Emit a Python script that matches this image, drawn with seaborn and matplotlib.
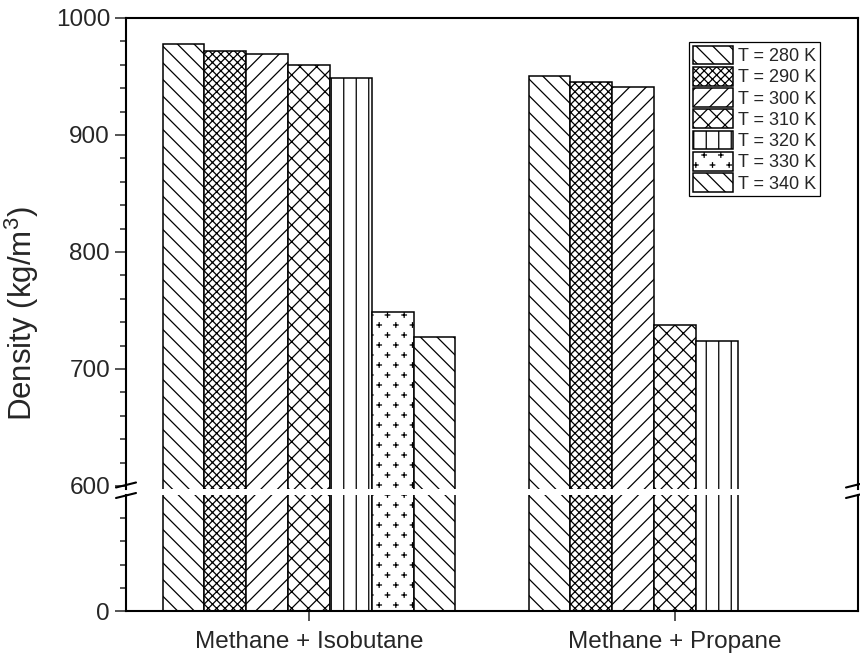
import numpy as np
import pandas as pd
import matplotlib
matplotlib.use("Agg")
import matplotlib.pyplot as plt
import matplotlib.hatch as mhatch
from matplotlib.path import Path
from matplotlib.lines import Line2D
import seaborn as sns

# ---- data -------------------------------------------------------------
mixtures = ["Methane + Isobutane", "Methane + Propane"]
temperatures = ["T = 280 K", "T = 290 K", "T = 300 K", "T = 310 K",
                "T = 320 K", "T = 330 K", "T = 340 K"]
isobutane_density = [978, 972, 969, 960, 949, 749, 727]
propane_density = [950, 945, 941, 738, 724]          # no 330 K / 340 K points
hatches = ["\\\\", "xxxx", "//", "xx", "|", ".", "\\\\"]

upper_ticks = [600, 700, 800, 900, 1000]
lower_ticks = [0]


# ---- custom hatch patterns: denser vertical lines and small plus marks --
class DenseVertical(mhatch.VerticalHatch):
    def __init__(self, hatch, density):
        self.num_lines = int((hatch.count('|') + hatch.count('+')) * density * 1.4)
        self.num_vertices = self.num_lines * 2


class PlusMarks(mhatch.HatchPatternBase):
    """Staggered grid of small '+' marks, kept clear of the tile edges."""
    size = 4.5  # arm-to-arm length in hatch-tile hundredths

    def __init__(self, hatch, density):
        n = hatch.count('.')
        self.rows = 10 * n
        self.cols = 6 * n
        self.centers = []
        for r in range(self.rows):
            shift = 0.25 if r % 2 == 0 else 0.75
            y = (r + 0.5) / self.rows
            self.centers.extend(((c + shift) / self.cols, y)
                                for c in range(self.cols))
        self.num_vertices = len(self.centers) * 4

    def set_vertices_and_codes(self, vertices, codes):
        half = 0.5 * self.size / 100.0
        shape = np.array([[-half, 0.0], [half, 0.0], [0.0, -half], [0.0, half]])
        vertices[:] = np.concatenate([shape + c for c in self.centers])
        codes[:] = np.tile([Path.MOVETO, Path.LINETO, Path.MOVETO, Path.LINETO],
                           len(self.centers))


mhatch._hatch_types = [
    DenseVertical if t is mhatch.VerticalHatch else
    PlusMarks if t is mhatch.SmallFilledCircles else t
    for t in mhatch._hatch_types
]

# ---- long-form table --------------------------------------------------
rows = []
for t, v in zip(temperatures, isobutane_density):
    rows.append((mixtures[0], t, v))
for t, v in zip(temperatures, propane_density):
    rows.append((mixtures[1], t, v))
df = pd.DataFrame(rows, columns=["mixture", "temperature", "density"])

# ---- style ------------------------------------------------------------
sns.set_theme(style="ticks")
plt.rcParams["font.family"] = ["Liberation Sans", "DejaVu Sans"]
plt.rcParams["hatch.color"] = "black"
plt.rcParams["hatch.linewidth"] = 0.9
plt.rcParams["axes.linewidth"] = 1.5

W, H = 860, 656
fig = plt.figure(figsize=(W / 100, H / 100), dpi=100)


def fx(px):
    return px / W


def fy(py):
    return 1 - py / H


left, right = 126, 858
ax_top = fig.add_axes([fx(left), fy(489), fx(right - left), fy(18) - fy(489)])
ax_bot = fig.add_axes([fx(left), fy(611), fx(right - left), fy(495) - fy(611)])

for ax in (ax_top, ax_bot):
    sns.barplot(data=df, x="mixture", y="density", hue="temperature",
                order=mixtures, hue_order=temperatures,
                palette=["white"] * len(temperatures), saturation=1,
                edgecolor="black", linewidth=1.1, errorbar=None,
                width=0.8, legend=False, ax=ax)
    for cont, h in zip(ax.containers, hatches):
        for bar in cont.patches:
            bar.set_hatch(h)
    ax.set_xlim(-0.5, 1.5)
    ax.set_xlabel("")
    ax.set_ylabel("")
    ax.tick_params(axis="y", which="major", direction="out", length=8,
                   width=1.1, labelsize=17.5, pad=3.5, right=False)
    ax.tick_params(axis="y", which="minor", direction="out", length=4.5,
                   width=1.1, right=False)
    for s in ax.spines.values():
        s.set_linewidth(1.5)
        s.set_color("black")

# upper panel
ax_top.set_ylim(597.4, 1000)
ax_top.set_yticks(upper_ticks)
ax_top.set_yticks(np.arange(620, 1000, 20), minor=True)
ax_top.spines["bottom"].set_visible(False)
ax_top.tick_params(axis="x", which="both", bottom=False, top=False,
                   labelbottom=False)

# lower panel
ax_bot.set_ylim(0, 500)
ax_bot.set_yticks(lower_ticks)
ax_bot.set_yticks([100, 200, 300, 400], minor=True)
ax_bot.spines["top"].set_visible(False)
ax_bot.tick_params(axis="x", which="major", direction="out", length=7,
                   width=1.1, labelsize=17.5, pad=7.5, top=False)

# legend
handles = [cont.patches[0] for cont in ax_top.containers]
leg = ax_top.legend(handles, temperatures, loc="upper right",
                    bbox_to_anchor=(0.948, 0.949), borderaxespad=0,
                    fontsize=13, frameon=True, fancybox=False,
                    edgecolor="black", framealpha=1, borderpad=0.2,
                    handlelength=2.2, handleheight=1.22, handletextpad=0.3,
                    labelspacing=0.1)
leg.get_frame().set_linewidth(0.9)

# axis label spanning both panels
fig.text(fx(22), fy(314), r"Density (kg/m$\mathregular{^3}$)", rotation=90,
         ha="center", va="center", fontsize=22.5)

# break marks on both vertical spines
for x0, x1 in ((116, 136), (846, 866)):
    for y0, y1 in ((487.5, 482.5), (498, 493)):
        fig.add_artist(Line2D([fx(x0), fx(x1)], [fy(y0), fy(y1)],
                              transform=fig.transFigure, color="black",
                              lw=1.5, clip_on=False))

fig.savefig("out.png", dpi=100)
